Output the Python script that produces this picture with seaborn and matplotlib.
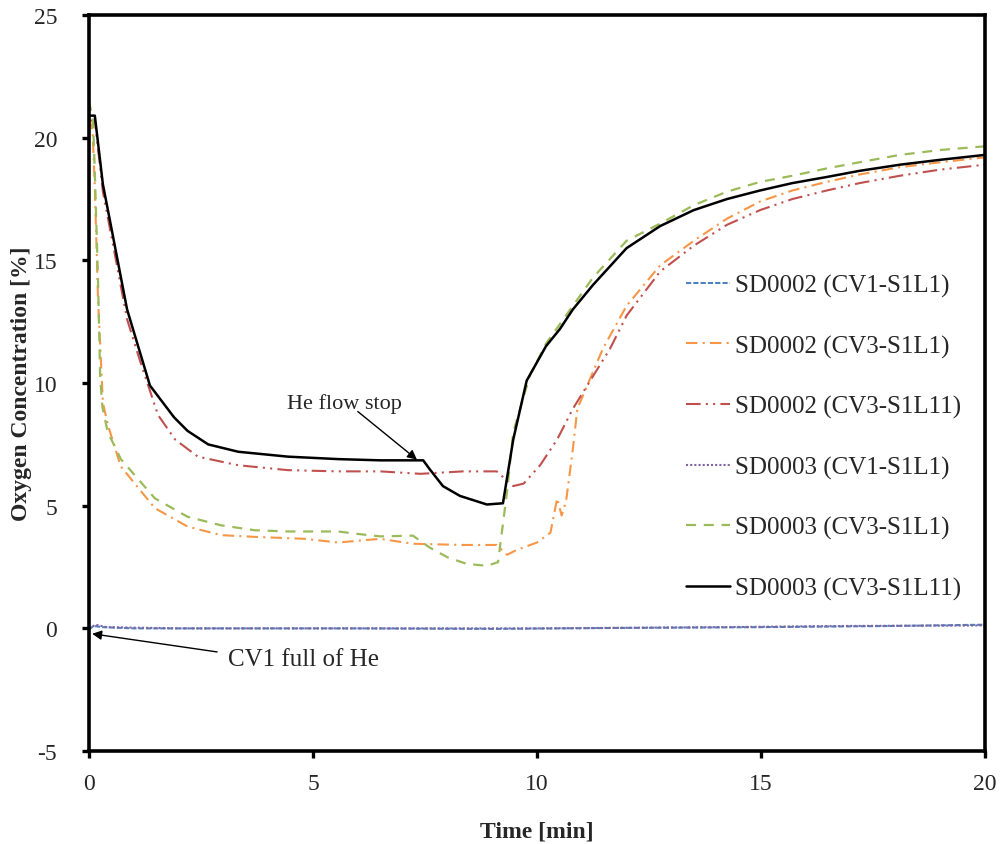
import matplotlib
matplotlib.use("Agg")
import matplotlib.pyplot as plt
import seaborn as sns
import pandas as pd

# ---------------- data ----------------
t_blue = [0, 0.1, 0.3, 1, 3, 6, 9, 12, 15, 18, 20]
v_blue = [-0.05, 0.1, 0.05, 0.0, 0.0, 0.0, -0.02, 0.02, 0.05, 0.1, 0.15]

t_orange = [0, 0.08, 0.13, 0.2, 0.31, 0.42, 0.71, 1.47, 2.2, 2.95, 3.7, 4.82, 5.56,
            6.5, 7.23, 8.35, 9.1, 9.33, 9.55, 10.0, 10.3, 10.45, 10.55, 10.65, 10.8,
            10.9, 11.47, 12.0, 12.75, 13.5, 14.24, 14.98, 15.7, 16.47, 17.2, 18.1, 19.0, 20]
v_orange = [20.8, 20.3, 18.0, 13.5, 9.2, 8.3, 6.6, 4.9, 4.15, 3.8, 3.73, 3.65, 3.5,
            3.65, 3.45, 3.4, 3.4, 3.0, 3.2, 3.5, 3.9, 5.3, 4.6, 5.2, 7.3,
            8.95, 11.4, 13.15, 14.8, 15.8, 16.7, 17.4, 17.85, 18.2, 18.5, 18.8, 19.0, 19.2]

t_red = [0, 0.13, 0.31, 0.54, 0.85, 1.14, 1.54, 1.92, 2.43, 3.33, 4.44, 5.56, 6.5,
         7.4, 8.35, 9.1, 9.47, 9.7, 10.07, 10.45, 10.8, 11.63, 12.0, 12.75, 13.5,
         14.24, 14.98, 15.7, 16.47, 17.2, 18.1, 19.0, 20]
v_red = [20.7, 20.7, 17.8, 15.6, 12.6, 10.9, 8.7, 7.7, 7.0, 6.65, 6.45, 6.4, 6.4,
         6.3, 6.4, 6.4, 5.8, 5.9, 6.65, 7.7, 8.95, 11.4, 12.75, 14.55, 15.6,
         16.45, 17.05, 17.5, 17.85, 18.15, 18.45, 18.7, 18.9]

t_purple = [0, 0.15, 0.4, 2, 5, 8, 10, 14, 17, 20]
v_purple = [0.0, 0.15, 0.05, 0.0, 0.0, 0.0, 0.0, 0.05, 0.1, 0.12]

t_green = [0, 0.09, 0.13, 0.2, 0.25, 0.3, 0.42, 0.71, 1.47, 2.2, 2.95, 3.7, 4.44,
           5.56, 6.0, 6.5, 7.23, 7.6, 8.0, 8.43, 8.88, 9.13, 9.33, 9.47, 9.84, 10.2,
           10.51, 11.25, 12.0, 12.75, 13.5, 14.24, 14.98, 15.7, 16.47, 17.2, 18.1, 19.0, 20]
v_green = [21.5, 20.7, 18.6, 14.3, 10.2, 9.0, 8.0, 6.9, 5.3, 4.55, 4.2, 4.0, 3.95,
           3.95, 3.85, 3.75, 3.78, 3.3, 2.9, 2.63, 2.55, 2.7, 5.55, 8.0, 10.3, 11.6,
           12.4, 14.3, 15.8, 16.5, 17.25, 17.8, 18.2, 18.45, 18.75, 19.0, 19.3, 19.5, 19.65]

t_black = [0, 0.13, 0.31, 0.47, 0.85, 1.36, 1.9, 2.2, 2.66, 3.33, 4.44, 5.56, 6.5,
           7.3, 7.46, 7.6, 7.9, 8.28, 8.88, 9.24, 9.47, 9.77, 10.2, 10.51, 10.8, 11.25,
           12.0, 12.75, 13.5, 14.24, 14.98, 15.7, 16.47, 17.2, 18.1, 19.0, 20]
v_black = [20.9, 20.9, 18.1, 16.6, 13.0, 9.9, 8.6, 8.05, 7.5, 7.2, 7.0, 6.9, 6.85,
           6.85, 6.85, 6.5, 5.8, 5.4, 5.05, 5.1, 7.7, 10.1, 11.5, 12.2, 13.0, 14.0,
           15.5, 16.4, 17.05, 17.5, 17.85, 18.15, 18.4, 18.65, 18.9, 19.1, 19.3]

labels = ["SD0002 (CV1-S1L1)", "SD0002 (CV3-S1L1)", "SD0002 (CV3-S1L11)",
          "SD0003 (CV1-S1L1)", "SD0003 (CV3-S1L1)", "SD0003 (CV3-S1L11)"]

x_ticks = [0, 5, 10, 15, 20]
y_ticks = [-5, 0, 5, 10, 15, 20, 25]

# ---------------- style ----------------
sns.set_style("white")
plt.rcParams["font.family"] = ["Liberation Serif", "DejaVu Serif"]

fig = plt.figure(figsize=(10, 8.45), dpi=100)
ax = fig.add_axes([0.089, 0.110, 0.896, 0.871])

series = [
    (t_blue, v_blue, "#4F81BD", (2.5, 1.0), 1.5),
    (t_orange, v_orange, "#F79646", (5.5, 2.5, 1.0, 2.5), 1.5),
    (t_red, v_red, "#C0504D", (7.0, 2.5, 1.0, 2.5, 1.0, 2.5), 1.5),
    (t_purple, v_purple, "#8064A2", (1.0, 1.0), 1.5),
    (t_green, v_green, "#9BBB59", (4.5, 3.5), 1.6),
    (t_black, v_black, "black", None, 1.8),
]

for (tt, vv, col, dash, lw), lab in zip(series, labels):
    df = pd.DataFrame({"t": tt, "v": vv})
    sns.lineplot(data=df, x="t", y="v", ax=ax, estimator=None, sort=False,
                 color=col, lw=lw, label=lab)
    if dash is not None:
        ax.lines[-1].set_dashes(dash)

ax.set_xlim(0, 20)
ax.set_ylim(-5, 25)
ax.set_xticks(x_ticks)
ax.set_yticks(y_ticks)
ax.set_xticklabels([str(v) for v in x_ticks])
ax.set_yticklabels([str(v) for v in y_ticks])

for s in ax.spines.values():
    s.set_visible(True)
    s.set_color("black")
    s.set_linewidth(2.6)

ax.tick_params(axis="both", which="major", direction="out", length=5, width=2.4,
               color="black", labelsize=17, bottom=True, left=True, top=False, right=False)
ax.tick_params(axis="y", pad=18)
ax.tick_params(axis="x", pad=11)

ax.set_xlabel("Time [min]", fontsize=17, fontweight="bold", labelpad=19)
ax.set_ylabel("Oxygen Concentration [%]", fontsize=17, fontweight="bold", labelpad=1)

leg = ax.legend(loc="upper left", bbox_to_anchor=(0.655, 0.662), frameon=False,
                fontsize=18, labelspacing=1.5, handlelength=1.75, handletextpad=0.2,
                borderaxespad=0)

# annotations
ax.annotate("", xy=(7.32, 6.88), xytext=(6.0, 8.84),
            arrowprops=dict(arrowstyle="-|>", color="black", lw=1.0,
                            mutation_scale=14, shrinkA=0, shrinkB=0))
ax.text(5.71, 9.2, "He flow stop", fontsize=16, ha="center", va="center")

ax.annotate("", xy=(0.07, -0.22), xytext=(2.86, -0.96),
            arrowprops=dict(arrowstyle="-|>", color="black", lw=1.0,
                            mutation_scale=14, shrinkA=0, shrinkB=0))
ax.text(3.1, -1.25, "CV1 full of He", fontsize=18, ha="left", va="center")

fig.savefig("out.png", dpi=100)
